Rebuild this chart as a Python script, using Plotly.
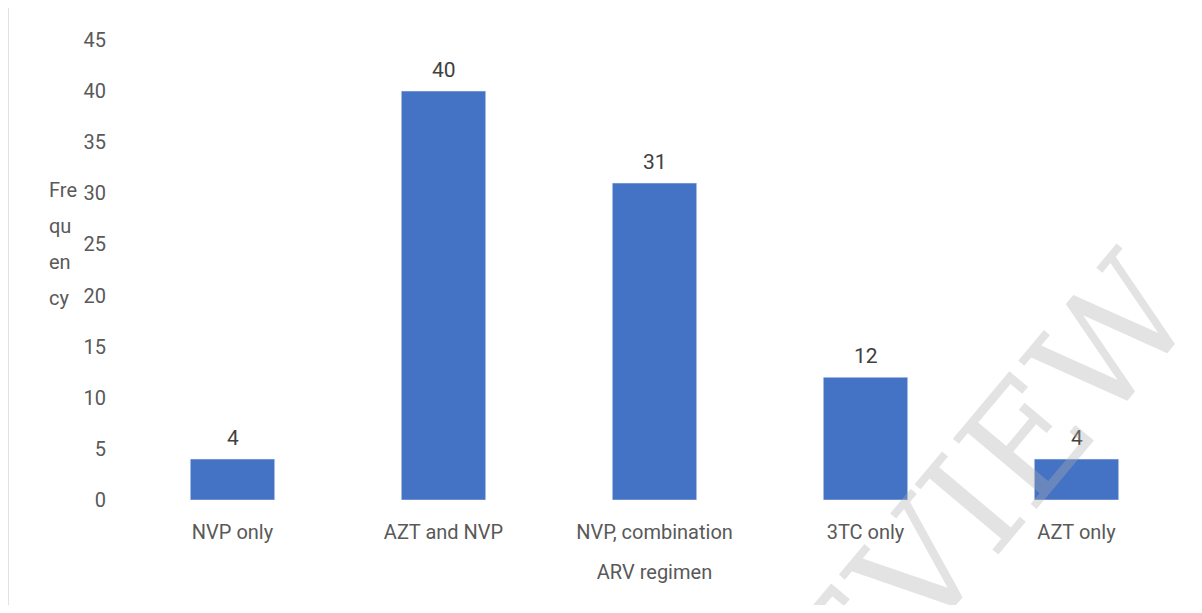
import plotly.graph_objects as go

regimens = ["NVP only", "AZT and NVP", "NVP, combination", "3TC only", "AZT only"]
frequency = [4, 40, 31, 12, 4]
y_ticks = [0, 5, 10, 15, 20, 25, 30, 35, 40, 45]
y_title_lines = ["Fre", "qu", "en", "cy"]

TEXT = "#595959"
FONT = "Roboto"

fig = go.Figure(
    go.Bar(
        x=regimens,
        y=frequency,
        marker_color="#4472C4",
    )
)

# value labels above the bars
for reg, val in zip(regimens, frequency):
    fig.add_annotation(
        x=reg, y=val, text=str(val), showarrow=False,
        yanchor="bottom", yshift=7,
        font=dict(family=FONT, size=21, color="#404040"),
    )

# page body adds an 8px offset, so the figure is a bit smaller than the window
fig.update_layout(
    width=1186,
    height=597,
    margin=dict(l=119, r=12, t=32, b=105),
    plot_bgcolor="white",
    paper_bgcolor="white",
    bargap=0.6,
    showlegend=False,
    font=dict(family=FONT, size=20, color=TEXT),
)

fig.update_xaxes(
    showgrid=False,
    showline=False,
    ticks="",
    ticklabelstandoff=18,
    tickfont=dict(family=FONT, size=20, color=TEXT),
    title=dict(text="ARV regimen", font=dict(family=FONT, size=20, color=TEXT), standoff=21),
    automargin=False,
)

fig.update_yaxes(
    range=[0, 45],
    tickvals=y_ticks,
    showgrid=False,
    showline=False,
    zeroline=False,
    ticks="",
    ticklabelstandoff=20,
    tickfont=dict(family=FONT, size=20, color=TEXT),
    automargin=False,
)

# wrapped y-axis title, one line per annotation
for i, part in enumerate(y_title_lines):
    fig.add_annotation(
        text=part, xref="paper", yref="paper", x=-0.076, y=0.674 - i * 0.078,
        xanchor="left", yanchor="middle", showarrow=False,
        font=dict(family=FONT, size=20, color=TEXT),
    )

# left border line
fig.add_shape(
    type="line", xref="paper", yref="paper", x0=-0.113, x1=-0.113, y0=-0.25, y1=1.076,
    line=dict(color="#d9d9d9", width=2),
)

# watermark
fig.add_annotation(
    text="PREVIEW", xref="paper", yref="paper", x=0.75, y=-0.15,
    xanchor="center", yanchor="middle",
    showarrow=False, textangle=-50,
    font=dict(family="DejaVu Serif", size=150, color="rgba(175,175,175,0.35)"),
)

fig.write_html("out.html")
